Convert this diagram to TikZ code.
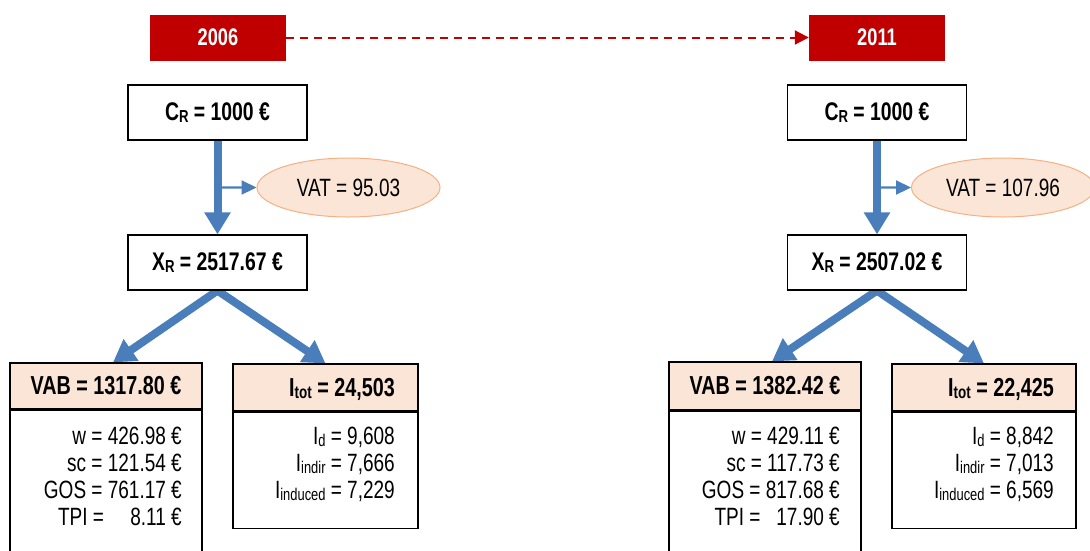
\documentclass[tikz,border=0pt]{standalone}
\usepackage{fontspec}
\usepackage{graphicx}
\setmainfont[FakeStretch=0.76]{Liberation Sans}
\usetikzlibrary{arrows.meta,shapes.geometric,calc}
\definecolor{darkred}{HTML}{C00000}
\definecolor{arrowblue}{HTML}{4A7EBB}
\definecolor{peach}{HTML}{FBE5D6}
\definecolor{peachline}{HTML}{F4B183}
\newcommand\sbs[1]{\raisebox{-0.08em}{\scalebox{0.68}{#1}}}
\pgfdeclarelayer{bg}
\pgfsetlayers{bg,main}
\tikzset{
  yearbox/.style={fill=darkred, minimum width=136pt, minimum height=46pt, inner sep=0pt, text=white, font=\bfseries\fontsize{24}{28}\selectfont},
  valbox/.style={draw=black, line width=1.2pt, fill=white, minimum width=179pt, minimum height=55pt, inner sep=0pt, font=\bfseries\fontsize{25.5}{30}\selectfont},
  vatell/.style={ellipse, draw=peachline, line width=1pt, fill=peach, minimum width=183pt, minimum height=59pt, inner sep=0pt, font=\fontsize{25}{28}\selectfont},
  headbox/.style={draw=black, line width=1.2pt, fill=peach, inner sep=0pt, font=\bfseries\fontsize{26}{30}\selectfont},
  headtext/.style={anchor=base east, inner sep=0pt, font=\bfseries\fontsize{26}{30}\selectfont},
  bodybox/.style={draw=black, line width=1.2pt, fill=white, inner sep=0pt},
  rowtext/.style={anchor=base east, inner sep=0pt, font=\fontsize{25}{28}\selectfont},
  bigarrow/.style={draw=arrowblue, line width=8pt, -{Triangle[width=25pt,length=22pt]}, arrowblue},
  smallarrow/.style={draw=arrowblue, line width=2.2pt, -{Triangle[width=14pt,length=15pt]}, arrowblue},
  timearrow/.style={draw=darkred, line width=2pt, dash pattern=on 8pt off 6pt, -{Triangle[width=14pt,length=14pt]}, darkred}
}
\begin{document}
\begin{tikzpicture}[x=1pt,y=-1pt]
\useasboundingbox (0,0) rectangle (1090,550);

% year boxes
\node[yearbox] (y2006) at (218,37.5) {2006};
\node[yearbox] (y2011) at (877,37.5) {2011};

% ---- left (2006)
\node[valbox] (crL) at (217.5,112.5) {C\sbs{R} = 1000 €};
\node[vatell] (vatL) at (348.5,187.5) {VAT = 95.03};
\node[valbox] (xrL) at (217.5,262.5) {X\sbs{R} = 2517.67 €};
\node[headbox, minimum width=192pt, minimum height=46pt] (vabHL) at (106,386) {VAB = 1317.80 €};
\node[bodybox, minimum width=192pt, minimum height=152pt, anchor=north] (vabBL) at (vabHL.south) {};
\node[headbox, minimum width=185pt, minimum height=47pt] (itotHL) at (325.5,387.5) {};
\node[bodybox, minimum width=185pt, minimum height=116pt, anchor=north] (itotBL) at (itotHL.south) {};
\node[headtext] (itotTL) at (395,396.5) {I\sbs{tot} = 24,503};

\node[rowtext] (wL) at (182,444) {w = 426.98 €};
\node[rowtext] (scL) at (182,471) {sc = 121.54 €};
\node[rowtext] (gosL) at (182,498) {GOS = 761.17 €};
\node[rowtext] (tpiL) at (182,525) {TPI = \phantom{00}8.11 €};

\node[rowtext] (idL) at (395,444) {I\sbs{d} = 9,608};
\node[rowtext] (iindL) at (395,471) {I\sbs{indir} = 7,666};
\node[rowtext] (iinducedL) at (395,498) {I\sbs{induced} = 7,229};

% ---- right (2011)
\node[valbox] (crR) at (877,112.5) {C\sbs{R} = 1000 €};
\node[vatell] (vatR) at (1003,187.5) {VAT = 107.96};
\node[valbox] (xrR) at (877,262.5) {X\sbs{R} = 2507.02 €};
\node[headbox, minimum width=192pt, minimum height=48pt] (vabHR) at (765,386) {VAB = 1382.42 €};
\node[bodybox, minimum width=192pt, minimum height=152pt, anchor=north] (vabBR) at (vabHR.south) {};
\node[headbox, minimum width=184pt, minimum height=47pt] (itotHR) at (984,387.5) {};
\node[bodybox, minimum width=184pt, minimum height=116pt, anchor=north] (itotBR) at (itotHR.south) {};
\node[headtext] (itotTR) at (1054,396.5) {I\sbs{tot} = 22,425};

\node[rowtext] (wR) at (840,444) {w = 429.11 €};
\node[rowtext] (scR) at (840,471) {sc = 117.73 €};
\node[rowtext] (gosR) at (840,498) {GOS = 817.68 €};
\node[rowtext] (tpiR) at (840,525) {TPI = \phantom{0}17.90 €};

\node[rowtext] (idR) at (1054,444) {I\sbs{d} = 8,842};
\node[rowtext] (iindR) at (1054,471) {I\sbs{indir} = 7,013};
\node[rowtext] (iinducedR) at (1054,498) {I\sbs{induced} = 6,569};

% ---- connectors
\draw[timearrow] (y2006) -- (y2011);

\begin{pgfonlayer}{bg}
\draw[smallarrow] ($(crL.south)!0.5!(xrL.north)$) -- (vatL.west);
\draw[bigarrow] (crL.south) -- (xrL.north);
\draw[bigarrow] (xrL.south) -- ([xshift=7pt]vabHL.north);
\draw[bigarrow] (xrL.south) -- (itotHL.north);

\draw[smallarrow] ($(crR.south)!0.5!(xrR.north)$) -- (vatR.west);
\draw[bigarrow] (crR.south) -- (xrR.north);
\draw[bigarrow] (xrR.south) -- ([xshift=7pt]vabHR.north);
\draw[bigarrow] (xrR.south) -- (itotHR.north);
\end{pgfonlayer}
\end{tikzpicture}
\end{document}
